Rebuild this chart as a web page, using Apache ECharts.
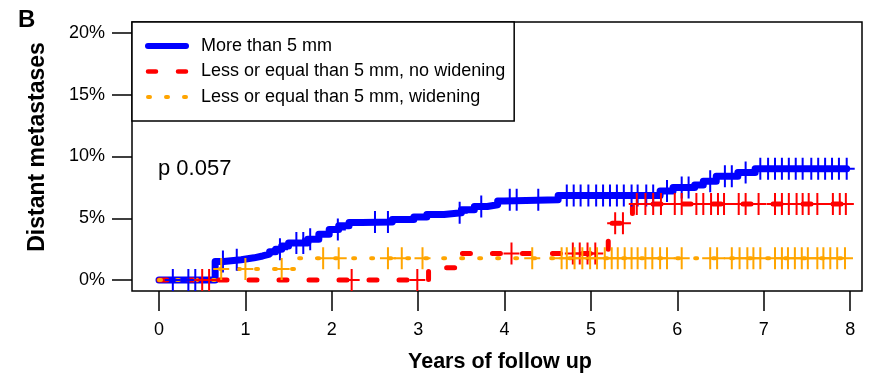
<!DOCTYPE html>
<html>
<head>
<meta charset="utf-8">
<script src="https://cdn.jsdelivr.net/npm/echarts@6/dist/echarts.min.js"></script>
<style>
  html, body { margin: 0; padding: 0; background: #fff; }
  #chart { width: 873px; height: 378px; }
</style>
</head>
<body>
<div id="chart"></div>
<script>
const xTicks = [0, 1, 2, 3, 4, 5, 6, 7, 8];
const yTicks = [0, 5, 10, 15, 20];

const groupNames = [
  "More than 5 mm",
  "Less or equal than 5 mm, no widening",
  "Less or equal than 5 mm, widening",
];

// [years, cumulative %] - value holds from that time on
const blueSteps = [
  [0, 0], [0.65, 1.5], [0.75, 1.65], [0.95, 1.8], [1.1, 1.95], [1.2, 2.1], [1.28, 2.3],
  [1.35, 2.5], [1.42, 2.75], [1.5, 3.0], [1.72, 3.3], [1.85, 3.7], [1.97, 4.1], [2.08, 4.4],
  [2.2, 4.65], [2.35, 4.7], [2.7, 4.9], [2.95, 5.1], [3.1, 5.3], [3.3, 5.45], [3.5, 5.7],
  [3.65, 5.95], [3.8, 6.1], [3.92, 6.4], [4.0, 6.5], [4.62, 6.85], [5.8, 7.2], [5.95, 7.5],
  [6.2, 7.7], [6.3, 8.0], [6.45, 8.4], [6.7, 8.7], [6.9, 9.0],
];
const blueCensor = [
  0.16, 0.34, 0.42, 0.74, 0.90, 1.40, 1.59, 1.67, 1.75, 2.07, 2.50, 2.65, 3.48, 3.73,
  4.06, 4.14, 4.39, 4.72, 4.80, 4.88, 4.97, 5.06, 5.14, 5.22, 5.30, 5.38, 5.47, 5.54,
  5.64, 5.72, 5.88, 6.05, 6.13, 6.38, 6.55, 6.63, 6.79, 6.96, 7.05, 7.13, 7.21, 7.29,
  7.37, 7.45, 7.55, 7.63, 7.71, 7.79, 7.87, 7.96,
];

const redSteps = [
  [0, 0], [3.12, 1.0], [3.47, 2.15], [5.2, 3.3], [5.23, 4.6], [5.45, 5.3], [5.48, 6.15],
];
const redCensor = [
  0.50, 0.58, 2.23, 2.99, 4.08, 4.79, 4.87, 4.96, 5.05, 5.28, 5.37,
  5.53, 5.63, 5.72, 5.81, 5.97, 6.05, 6.22, 6.30, 6.39, 6.47, 6.54, 6.71, 6.79, 6.94,
  7.13, 7.21, 7.29, 7.38, 7.45, 7.52, 7.62, 7.80, 7.88, 7.95,
];

const orangeSteps = [[0, 0], [0.66, 0.89], [1.58, 1.77]];
const orangeCensor = [
  0.72, 1.0, 1.42, 1.9, 2.08, 2.65, 2.81, 3.05, 4.32, 4.66, 4.72, 4.81, 4.90, 4.99,
  5.07, 5.16, 5.24, 5.31, 5.39, 5.47, 5.54, 5.63, 5.71, 5.80, 5.88, 6.05, 6.38, 6.46,
  6.63, 6.72, 6.81, 6.88, 6.96, 7.13, 7.21, 7.28, 7.36, 7.44, 7.51, 7.62, 7.69, 7.77,
  7.85, 7.94,
];

const pValueText = "p 0.057";

function valueAt(steps, t) {
  let v = steps[0][1];
  for (const [x, y] of steps) {
    if (x <= t) v = y;
  }
  return v;
}

function stepLine(steps, censor) {
  const end = censor[censor.length - 1];
  return steps.concat([[end, steps[steps.length - 1][1]]]);
}

function censorPoints(steps, censor) {
  return censor.map((t) => [t, valueAt(steps, t)]);
}

const plusSymbol = "path://M7,0h2v22h-2zM0,10h16v2h-16z";

function censorSeries(name, steps, censor, color) {
  return {
    name: name,
    type: "scatter",
    data: censorPoints(steps, censor),
    symbol: plusSymbol,
    symbolSize: [16, 22],
    itemStyle: { color: color, opacity: 1 },
    silent: true,
    z: 4,
  };
}

const chart = echarts.init(document.getElementById("chart"), null, { renderer: "canvas" });
const font = "Liberation Sans";

chart.setOption({
  animation: false,
  textStyle: { fontFamily: font },
  grid: {
    left: 132, right: 11, top: 22, bottom: 86,
    show: true, borderColor: "#000", borderWidth: 1.5,
  },
  legend: {
    data: [
      { name: groupNames[0], lineStyle: { width: 6 } },
      { name: groupNames[1], lineStyle: { width: 4.5 } },
      { name: groupNames[2], lineStyle: { width: 4 } },
    ],
    orient: "vertical",
    left: 132, top: 22,
    padding: [15, 9, 15, 13],
    itemWidth: 38, itemHeight: 14, itemGap: 7.5,
    itemStyle: { opacity: 0 },
    backgroundColor: "#fff",
    borderColor: "#000", borderWidth: 1.5,
    selectedMode: false,
    textStyle: { fontFamily: font, fontSize: 18, color: "#000", padding: [0, 0, 0, 10] },
    z: 10,
  },
  xAxis: {
    type: "value",
    min: -0.3125, max: 8.137,
    splitLine: { show: false },
    axisLine: { show: false, onZero: false },
    axisTick: { show: true, customValues: xTicks, length: 20, lineStyle: { color: "#000", width: 1.5 } },
    axisLabel: { customValues: xTicks, fontSize: 18, color: "#000", margin: 30, fontFamily: font },
    name: "Years of follow up",
    nameLocation: "middle",
    nameGap: 60,
    nameTextStyle: { fontSize: 21.5, fontWeight: "bold", color: "#000", fontFamily: font, padding: [0, 0, 0, 6] },
  },
  yAxis: {
    type: "value",
    min: -0.887, max: 20.89,
    splitLine: { show: false },
    axisLine: { show: false, onZero: false },
    axisTick: { show: true, customValues: yTicks, length: 20, lineStyle: { color: "#000", width: 1.5 } },
    axisLabel: { customValues: yTicks, fontSize: 18, color: "#000", margin: 27, fontFamily: font, formatter: (v) => v + "%" },
  },
  graphic: [
    { type: "text", left: 18, top: 8, style: { text: "B", font: "bold 24px " + font, fill: "#000" } },
    { type: "text", left: 158, top: 158, style: { text: pValueText, font: "22px " + font, fill: "#000" } },
    {
      type: "text",
      x: 38, y: 147,
      rotation: Math.PI / 2,
      style: { text: "Distant metastases", font: "bold 23px " + font, fill: "#000", align: "center", verticalAlign: "middle" },
    },
  ],
  series: [
    {
      name: groupNames[0],
      type: "line",
      step: "end",
      data: stepLine(blueSteps, blueCensor),
      showSymbol: false,
      symbol: "none",
      lineStyle: { color: "#0000ff", width: 7, cap: "round", join: "round" },
      itemStyle: { color: "#0000ff" },
      z: 2,
    },
    {
      name: groupNames[1],
      type: "line",
      step: "end",
      data: stepLine(redSteps, redCensor),
      showSymbol: false,
      symbol: "none",
      lineStyle: { color: "#ff0000", width: 5, type: [8, 22], cap: "round", join: "round" },
      itemStyle: { color: "#ff0000" },
      z: 3,
    },
    {
      name: groupNames[2],
      type: "line",
      step: "end",
      data: stepLine(orangeSteps, orangeCensor),
      showSymbol: false,
      symbol: "none",
      lineStyle: { color: "#ffa500", width: 4, type: [2, 16], cap: "round", join: "round" },
      itemStyle: { color: "#ffa500" },
      z: 3,
    },
    censorSeries("blue censored", blueSteps, blueCensor, "#0000ff"),
    censorSeries("red censored", redSteps, redCensor, "#ff0000"),
    censorSeries("orange censored", orangeSteps, orangeCensor, "#ffa500"),
  ],
});
</script>
</body>
</html>
